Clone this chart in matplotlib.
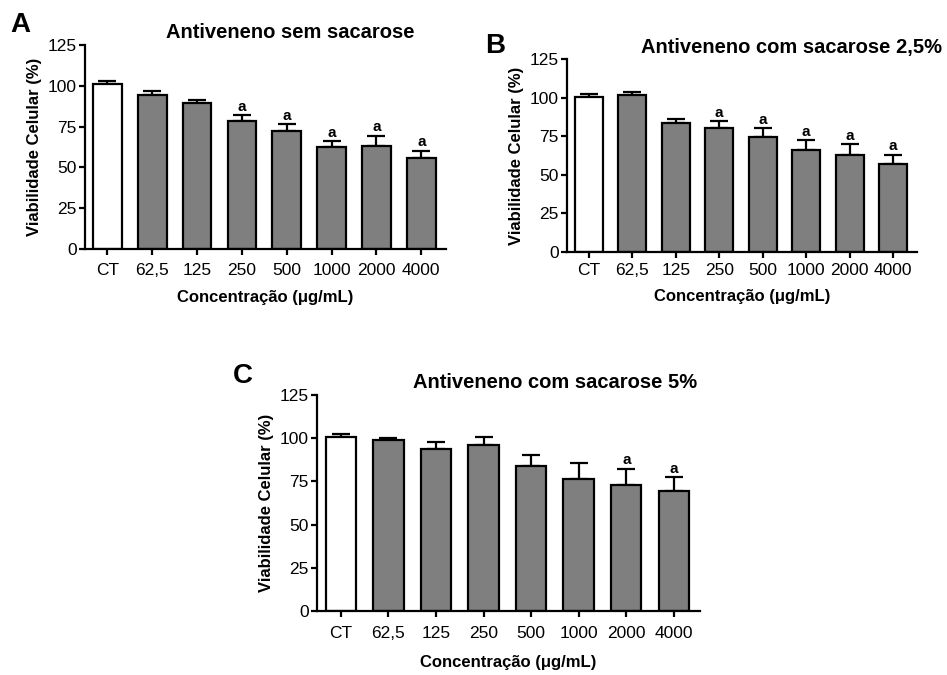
import numpy as np
import matplotlib
matplotlib.use('Agg')
import matplotlib.pyplot as plt

plt.rcParams['font.family'] = ['Liberation Sans', 'DejaVu Sans']

#data##########################################################################
concs = ['CT', '62,5', '125', '250', '500', '1000', '2000', '4000']

mean_a = [100.9, 94.4, 89.3, 78.2, 72.3, 62.5, 63.1, 56.0]
top_a = [102.7, 97.0, 91.5, 82.1, 76.4, 66.0, 69.4, 60.3]
sig_a = ['', '', '', 'a', 'a', 'a', 'a', 'a']

mean_b = [100.6, 101.4, 83.5, 80.4, 74.6, 66.2, 62.9, 57.1]
top_b = [102.5, 103.6, 85.9, 85.0, 80.2, 72.7, 69.9, 63.1]
sig_b = ['', '', '', 'a', 'a', 'a', 'a', 'a']

mean_c = [100.5, 98.7, 93.5, 96.2, 83.8, 76.3, 73.0, 69.7]
top_c = [102.4, 100.3, 97.6, 100.5, 90.4, 85.4, 82.3, 77.3]
sig_c = ['', '', '', '', '', '', 'a', 'a']

titles = ['Antiveneno sem sacarose', 'Antiveneno com sacarose 2,5%',
          'Antiveneno com sacarose 5%']
letters = ['A', 'B', 'C']

W, H = 947, 675
fig = plt.figure(figsize=(W / 100, H / 100), dpi=100)

#axes boxes in pixels: left, right, top, bottom
boxes = [(85, 446, 45, 249), (567, 917, 59, 252), (317, 700, 395, 611)]
title_xy = [(290, 32), (791, 47), (555, 382)]
letter_xy = [(10, 32), (485, 53), (233, 383)]
tick_pads = [6, 4, 7]
label_pads = [9, 8, 10]

def panel(k, means, tops, sigs):
    l, r, t, b = boxes[k]
    ax = fig.add_axes([l / W, 1 - b / H, (r - l) / W, (b - t) / H])
    x = np.arange(len(concs))
    colors = ['white'] + ['#7f7f7f'] * (len(concs) - 1)
    err = np.array(tops) - np.array(means)
    ax.bar(x, means, width=0.64, color=colors, edgecolor='k',
           linewidth=1.6, zorder=2)
    ax.errorbar(x, means, yerr=[np.zeros(len(x)), err], fmt='none',
                ecolor='k', elinewidth=1.6, capsize=6.5, capthick=1.6,
                zorder=1)
    for xi, tp, s in zip(x, tops, sigs):
        if s:
            ax.text(xi, tp + 0.8, s, ha='center', va='bottom',
                    fontsize=11, fontweight='bold')
    ax.set_xlim(-0.5, 7.55)
    ax.set_ylim(0, 125)
    ax.set_yticks(np.arange(0, 126, 25))
    ax.set_xticks(x)
    ax.set_xticklabels(concs)
    ax.tick_params(axis='x', length=4, width=1.6, pad=tick_pads[k],
                   labelsize=12.5)
    ax.tick_params(axis='y', length=4, width=1.6, labelsize=12.5, pad=2)
    ax.spines['top'].set_visible(False)
    ax.spines['right'].set_visible(False)
    ax.spines['left'].set_linewidth(1.6)
    ax.spines['bottom'].set_linewidth(1.6)
    ax.set_ylabel('Viabilidade Celular (%)', fontsize=12,
                  fontweight='bold', labelpad=4)
    ax.set_xlabel('Concentração (μg/mL)', fontsize=12,
                  fontweight='bold', labelpad=label_pads[k])
    fig.text(title_xy[k][0] / W, 1 - title_xy[k][1] / H, titles[k],
             ha='center', va='center', fontsize=14.5, fontweight='bold')
    fig.text(letter_xy[k][0] / W, 1 - letter_xy[k][1] / H, letters[k],
             ha='left', va='baseline', fontsize=20, fontweight='bold')
    return ax

panel(0, mean_a, top_a, sig_a)
panel(1, mean_b, top_b, sig_b)
panel(2, mean_c, top_c, sig_c)

fig.savefig('out.png', dpi=100)
